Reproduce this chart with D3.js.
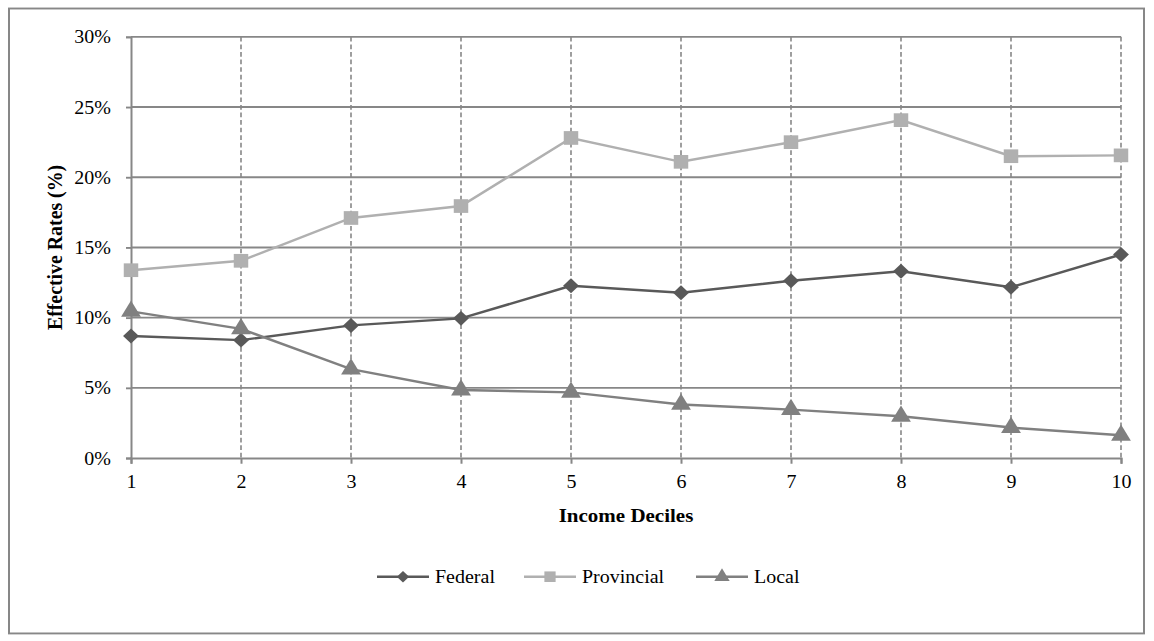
<!DOCTYPE html>
<html>
<head>
<meta charset="utf-8">
<script src="https://cdn.jsdelivr.net/npm/d3@7"></script>
<style>
  html, body { margin: 0; padding: 0; background: #fff; }
  svg { display: block; }
</style>
</head>
<body>
<svg id="chart" width="1154" height="641" viewBox="0 0 1154 678" preserveAspectRatio="none"></svg>
<script>
// Effective tax rates by income decile
const deciles = [1, 2, 3, 4, 5, 6, 7, 8, 9, 10];
const federal = [8.7, 8.4, 9.45, 9.95, 12.27, 11.77, 12.63, 13.3, 12.17, 14.5];
const provincial = [13.38, 14.05, 17.1, 17.95, 22.8, 21.1, 22.5, 24.07, 21.5, 21.56];
const local = [10.45, 9.2, 6.33, 4.85, 4.68, 3.82, 3.45, 2.98, 2.17, 1.62];
const yTicks = [0, 5, 10, 15, 20, 25, 30];

const seriesNames = ["Federal", "Provincial", "Local"];
const seriesValues = [federal, provincial, local];
const seriesColors = ["#595959", "#b0b0b0", "#808080"];
const seriesShapes = [d3.symbolDiamond2, d3.symbolSquare, d3.symbolTriangle];
const seriesSizes = [160, 210, 170];

const serif = '"Liberation Serif", "Times New Roman", Times, serif';
const svg = d3.select("#chart").style("font-family", serif);
const m = { left: 131, right: 1121, top: 39, bottom: 484.5 };
const gridColor = "#878787";

// chart frame
svg.append("rect")
  .attr("x", 9).attr("y", 9)
  .attr("width", 1135).attr("height", 661)
  .attr("fill", "#fff").attr("stroke", gridColor).attr("stroke-width", 2);

const x = d3.scaleLinear().domain([1, 10]).range([m.left, m.right]);
const y = d3.scaleLinear().domain([0, 30]).range([m.bottom, m.top]);

// vertical dashed gridlines
svg.append("g")
  .selectAll("line")
  .data(deciles.slice(1))
  .join("line")
  .attr("x1", d => x(d)).attr("x2", d => x(d))
  .attr("y1", y(30)).attr("y2", y(0))
  .attr("stroke", gridColor).attr("stroke-width", 1.6)
  .attr("stroke-dasharray", "5,3");

// horizontal gridlines
svg.append("g")
  .selectAll("line")
  .data(yTicks.slice(1))
  .join("line")
  .attr("x1", x(1)).attr("x2", x(10))
  .attr("y1", d => y(d)).attr("y2", d => y(d))
  .attr("stroke", gridColor).attr("stroke-width", 2);

// y axis
const yAxis = svg.append("g")
  .attr("transform", `translate(${m.left},0)`)
  .call(d3.axisLeft(y).tickValues(yTicks).tickFormat(d => d + "%").tickSize(5).tickPadding(15));
yAxis.select(".domain").attr("stroke", gridColor).attr("stroke-width", 2);
yAxis.selectAll(".tick line").attr("stroke", gridColor).attr("stroke-width", 2);
yAxis.selectAll(".tick text")
  .style("font-family", serif).style("font-size", "20px").attr("fill", "#000");

// x axis
const xAxis = svg.append("g")
  .attr("transform", `translate(0,${m.bottom})`)
  .call(d3.axisBottom(x).tickValues(deciles).tickFormat(d3.format("d")).tickSize(6).tickPadding(12));
xAxis.select(".domain").attr("stroke", gridColor).attr("stroke-width", 2);
xAxis.selectAll(".tick line").attr("stroke", gridColor).attr("stroke-width", 2);
xAxis.selectAll(".tick text")
  .style("font-family", serif).style("font-size", "20px").attr("fill", "#000");

// axis titles
svg.append("text")
  .attr("x", (m.left + m.right) / 2).attr("y", 552)
  .attr("text-anchor", "middle")
  .style("font-family", serif).style("font-size", "21px").style("font-weight", "bold")
  .text("Income Deciles");

svg.append("text")
  .attr("transform", `translate(62,${(m.top + m.bottom) / 2}) rotate(-90)`)
  .attr("text-anchor", "middle")
  .style("font-family", serif).style("font-size", "21px").style("font-weight", "bold")
  .text("Effective Rates (%)");

// series lines and markers
const line = d3.line().x((d, i) => x(deciles[i])).y(d => y(d));
seriesValues.forEach((vals, s) => {
  const g = svg.append("g");
  g.append("path")
    .datum(vals)
    .attr("d", line)
    .attr("fill", "none")
    .attr("stroke", seriesColors[s])
    .attr("stroke-width", 2.6);
  g.selectAll("path.marker")
    .data(vals)
    .join("path")
    .attr("class", "marker")
    .attr("transform", (d, i) => `translate(${x(deciles[i])},${y(d)})`)
    .attr("d", d3.symbol().type(seriesShapes[s]).size(seriesSizes[s]))
    .attr("fill", seriesColors[s]);
});

// legend
const legendX = [377, 524, 696];
const legend = svg.append("g");
seriesNames.forEach((name, s) => {
  const lx = legendX[s], ly = 610;
  legend.append("line")
    .attr("x1", lx).attr("x2", lx + 52)
    .attr("y1", ly).attr("y2", ly)
    .attr("stroke", seriesColors[s]).attr("stroke-width", 2.6);
  legend.append("path")
    .attr("transform", `translate(${lx + 26},${ly})`)
    .attr("d", d3.symbol().type(seriesShapes[s]).size(seriesSizes[s] * 0.6))
    .attr("fill", seriesColors[s]);
  legend.append("text")
    .attr("x", lx + 58).attr("y", ly)
    .attr("dy", "0.35em")
    .style("font-family", serif).style("font-size", "20px")
    .text(name);
});
</script>
</body>
</html>
